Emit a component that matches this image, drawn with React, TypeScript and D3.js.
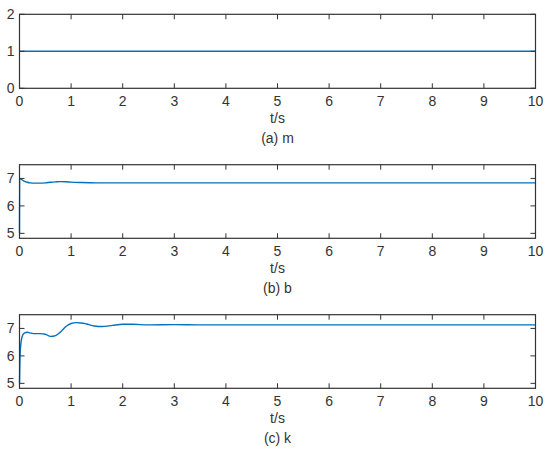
import React from "react";
import * as d3 from "d3";

const xTicks = [0, 1, 2, 3, 4, 5, 6, 7, 8, 9, 10];
const mTicks = [0, 1, 2];
const bkTicks = [5, 6, 7];

const mT = [0, 10];
const mV = [1, 1];

const bT = [0, 0.003, 0.05, 0.1, 0.15, 0.2, 0.3, 0.4, 0.5, 0.6, 0.7, 0.8, 0.9, 1.0, 1.2, 1.5, 2, 3, 10];
const bV = [5, 7.0, 6.95, 6.89, 6.86, 6.84, 6.83, 6.83, 6.84, 6.86, 6.875, 6.885, 6.88, 6.865, 6.85, 6.84, 6.84, 6.84, 6.84];

const kT = [0, 0.01, 0.03, 0.06, 0.1, 0.15, 0.2, 0.3, 0.4, 0.5, 0.6, 0.7, 0.8, 0.9, 1.0, 1.1, 1.2, 1.3, 1.45, 1.6, 1.8, 2.0, 2.2, 2.5, 3.0, 3.5, 4, 10];
const kV = [5, 6.0, 6.5, 6.75, 6.84, 6.86, 6.84, 6.81, 6.81, 6.79, 6.71, 6.74, 6.88, 7.07, 7.18, 7.21, 7.2, 7.16, 7.09, 7.07, 7.11, 7.15, 7.15, 7.13, 7.14, 7.13, 7.13, 7.13];

const captions = ["(a) m", "(b) b", "(c) k"];

const FONT = "Liberation Sans, Arial, sans-serif";
const AX = "#333333";
const LINE = "#0072BD";
const FS = 14;

type PanelProps = {
  top: number;
  bottom: number;
  domain: [number, number];
  yTicks: number[];
  t: number[];
  v: number[];
  caption: string;
  curve: boolean;
};

function Panel({ top, bottom, domain, yTicks, t, v, caption, curve }: PanelProps) {
  const x = d3.scaleLinear().domain([0, 10]).range([19.5, 535.5]);
  const y = d3.scaleLinear().domain(domain).range([bottom, top]);
  const pts: [number, number][] = t.map((tt, i) => [tt, v[i]]);
  const line = d3
    .line<[number, number]>()
    .x((d) => x(d[0]))
    .y((d) => y(d[1]))
    .curve(curve ? d3.curveMonotoneX : d3.curveLinear);
  const tl = 5;
  const x0 = x(0), x1 = x(10);
  const mid = (x0 + x1) / 2;
  return (
    <g>
      <path d={line(pts) || ""} fill="none" stroke={LINE} strokeWidth={1.4} />
      <rect x={x0} y={top} width={x1 - x0} height={bottom - top} fill="none" stroke={AX} strokeWidth={1.2} />
      {xTicks.map((tk) => (
        <g key={"x" + tk}>
          <line x1={x(tk)} x2={x(tk)} y1={bottom} y2={bottom - tl} stroke={AX} />
          <line x1={x(tk)} x2={x(tk)} y1={top} y2={top + tl} stroke={AX} />
          <text x={x(tk)} y={bottom + 18} textAnchor="middle" fontSize={FS} fontFamily={FONT} fill={AX}>
            {tk}
          </text>
        </g>
      ))}
      {yTicks.map((tk) => (
        <g key={"y" + tk}>
          <line x1={x0} x2={x0 + tl} y1={y(tk)} y2={y(tk)} stroke={AX} />
          <line x1={x1} x2={x1 - tl} y1={y(tk)} y2={y(tk)} stroke={AX} />
          <text x={x0 - 5} y={y(tk) + 5} textAnchor="end" fontSize={FS} fontFamily={FONT} fill={AX}>
            {tk}
          </text>
        </g>
      ))}
      <text x={mid} y={bottom + 34.5} textAnchor="middle" fontSize={FS} fontFamily={FONT} fill={AX}>
        t/s
      </text>
      <text x={mid} y={bottom + 55} textAnchor="middle" fontSize={FS} fontFamily={FONT} fill={AX}>
        {caption}
      </text>
    </g>
  );
}

export default function App() {
  return (
    <svg
      width={550}
      height={454}
      style={{ position: "absolute", left: 0, top: 0, background: "#fff" }}
    >
      <rect width={550} height={454} fill="#fff" />
      <Panel top={14.3} bottom={88.3} domain={[0, 2]} yTicks={mTicks} t={mT} v={mV} caption={captions[0]} curve={false} />
      <Panel top={164.7} bottom={238.3} domain={[4.82, 7.5]} yTicks={bkTicks} t={bT} v={bV} caption={captions[1]} curve={true} />
      <Panel top={314.7} bottom={388.3} domain={[4.82, 7.5]} yTicks={bkTicks} t={kT} v={kV} caption={captions[2]} curve={true} />
    </svg>
  );
}
